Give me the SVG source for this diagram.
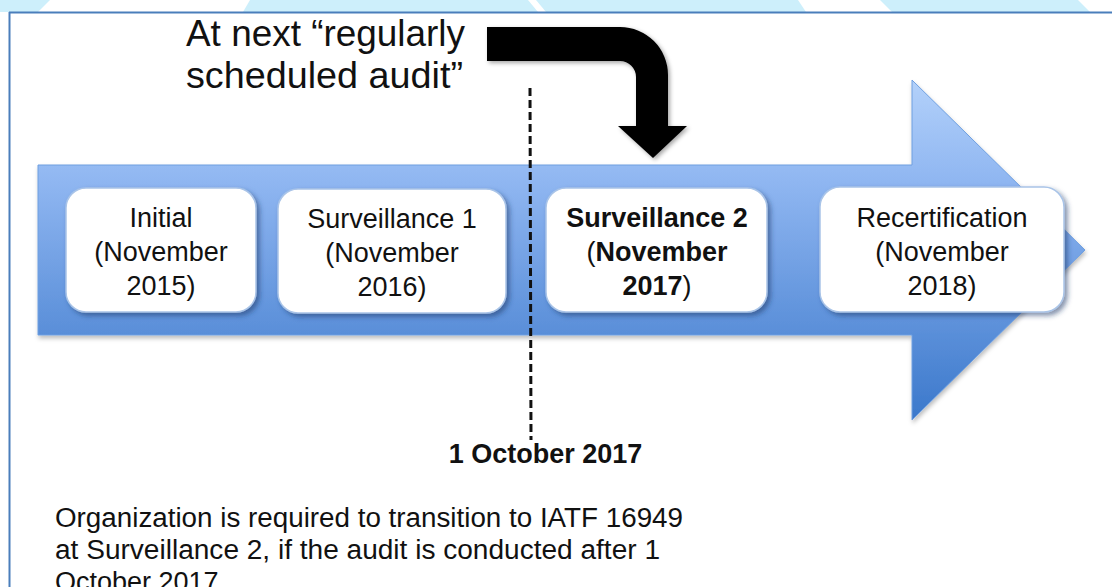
<svg xmlns="http://www.w3.org/2000/svg" width="1112" height="587" viewBox="0 0 1112 587">
  <defs>
    <linearGradient id="blueGrad" gradientUnits="userSpaceOnUse" x1="0" y1="80" x2="0" y2="420">
      <stop offset="0" stop-color="#b3d1fa"/>
      <stop offset="0.3" stop-color="#8fb6f1"/>
      <stop offset="1" stop-color="#3b78cb"/>
    </linearGradient>
    <filter id="boxShadow" x="-10%" y="-10%" width="125%" height="130%">
      <feDropShadow dx="3" dy="3" stdDeviation="2.5" flood-color="#1c3a6b" flood-opacity="0.55"/>
    </filter>
    <filter id="arrowShadow" x="-10%" y="-10%" width="125%" height="130%">
      <feDropShadow dx="2" dy="2" stdDeviation="2" flood-color="#000" flood-opacity="0.35"/>
    </filter>
    <filter id="bandShadow" x="-5%" y="-5%" width="110%" height="115%">
      <feDropShadow dx="1" dy="3" stdDeviation="2" flood-color="#000" flood-opacity="0.25"/>
    </filter>
  </defs>
  <style>
    .box { fill: #ffffff; stroke: #a9c4e8; stroke-width: 1.5; filter: url(#boxShadow); }
    .lbl { font-family: "Liberation Sans", Arial, sans-serif; font-size: 27px; fill: #111; text-anchor: middle; }
    .b { font-weight: bold; }
    .head { font-family: "Liberation Sans", Arial, sans-serif; font-size: 36px; fill: #111; }
    .para { font-family: "Liberation Sans", Arial, sans-serif; font-size: 27px; fill: #111; }
  </style>

  <rect x="0" y="0" width="1112" height="587" fill="#ffffff"/>

  <!-- top decorative strip -->
  <g id="top-strip">
    <rect x="0" y="0" width="1112" height="12" fill="#cdeffb"/>
    <polygon points="38,12 50,0 250,0 243,12" fill="#ffffff"/>
    <polygon points="528,0 536,0 546,12 538,12" fill="#ffffff"/>
    <polygon points="798,0 880,0 892,12 806,12" fill="#ffffff"/>
    <polygon points="1078,0 1112,0 1112,12 1090,12" fill="#ffffff"/>
  </g>

  <!-- frame -->
  <g id="frame" fill="none" stroke="#4a7ebb" stroke-width="2">
    <line x1="9" y1="12.5" x2="1112" y2="12.5"/>
    <line x1="9.5" y1="12" x2="9.5" y2="587"/>
  </g>

  <!-- heading -->
  <g id="heading">
    <text class="head" x="186" y="46" textLength="279" lengthAdjust="spacingAndGlyphs">At next “regularly</text>
    <text class="head" x="186" y="88" textLength="277" lengthAdjust="spacingAndGlyphs">scheduled audit”</text>
  </g>

  <!-- big timeline arrow -->
  <g id="timeline">
    <path d="M38,165 H912 V80 L1085,250 L912,420 V335 H38 Z" fill="url(#blueGrad)" stroke="#6e9fe0" stroke-width="1" filter="url(#bandShadow)"/>
  </g>

  <!-- nodes -->
  <g id="node-initial">
    <rect class="box" x="66" y="188" width="190" height="124" rx="20"/>
    <text class="lbl" x="161" y="227">Initial</text>
    <text class="lbl" x="161" y="261">(November</text>
    <text class="lbl" x="161" y="295">2015)</text>
  </g>
  <g id="node-surveillance1">
    <rect class="box" x="278" y="189" width="228" height="124" rx="20"/>
    <text class="lbl" x="392" y="228">Surveillance 1</text>
    <text class="lbl" x="392" y="262">(November</text>
    <text class="lbl" x="392" y="296">2016)</text>
  </g>
  <g id="node-surveillance2">
    <rect class="box" x="546" y="188" width="221" height="124" rx="20"/>
    <text class="lbl b" x="657" y="227">Surveillance 2</text>
    <text class="lbl" x="657" y="261">(<tspan class="b">November</tspan></text>
    <text class="lbl" x="657" y="295"><tspan class="b">2017</tspan>)</text>
  </g>
  <g id="node-recertification">
    <rect class="box" x="820" y="187" width="244" height="125" rx="20"/>
    <text class="lbl" x="942" y="227">Recertification</text>
    <text class="lbl" x="942" y="261">(November</text>
    <text class="lbl" x="942" y="295">2018)</text>
  </g>

  <!-- connectors -->
  <g id="connectors">
    <line x1="530" y1="88" x2="531" y2="440" stroke="#111" stroke-width="3" stroke-dasharray="8,4"/>
    <path d="M487,27 H620 A48,48 0 0 1 668,75 V126 H687 L653,158 L618,126 H636 V77 A16,16 0 0 0 620,61 H487 Z" fill="#000" filter="url(#arrowShadow)"/>
  </g>

  <!-- date label -->
  <g id="date-label">
    <text class="lbl b" x="545.5" y="463">1 October 2017</text>
  </g>

  <!-- paragraph -->
  <g id="note">
    <text class="para" x="55" y="527" textLength="628" lengthAdjust="spacingAndGlyphs">Organization is required to transition to IATF 16949</text>
    <text class="para" x="55" y="559" textLength="605" lengthAdjust="spacingAndGlyphs">at Surveillance 2, if the audit is conducted after 1</text>
    <text class="para" x="55" y="591">October 2017</text>
  </g>
</svg>
